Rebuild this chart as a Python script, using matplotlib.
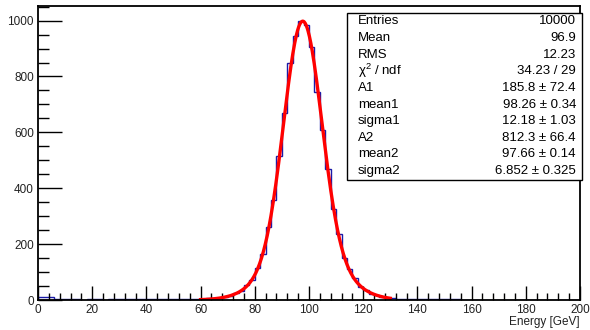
import numpy as np
import matplotlib.pyplot as plt
from matplotlib.ticker import MultipleLocator

plt.rcParams['font.family'] = ['Liberation Sans', 'DejaVu Sans']

# histogram: 100 bins of 2 GeV from 0 to 200 (counts)
bin_edges = np.arange(0, 202, 2)
counts = [
    9, 9, 9, 4, 2, 3, 2, 2, 0, 3, 2, 2, 1, 3, 3, 3, 3, 2, 3, 2,
    3, 3, 3, 2, 3, 2, 4, 2, 5, 2,
    5, 6, 8, 7, 11, 14, 24, 32, 52, 70, 115, 163, 262, 358, 515, 668,
    850, 945, 998, 985, 905, 745, 610, 470, 325, 238, 150, 110, 78, 48,
    36, 22, 17, 11, 8,
    6, 4, 3, 2, 3, 4, 2, 2, 3, 3, 2, 2, 3, 1, 1, 1, 0, 0, 0, 0,
    0, 0, 0, 0, 0, 0, 0, 0, 0, 0, 0, 0, 0, 0, 0,
]

# fit result (double gaussian), range 60-130
fit_range = (60, 130)
A1, mean1, sigma1 = 185.8, 98.26, 12.18
A2, mean2, sigma2 = 812.3, 97.66, 6.852

stats_labels = ["Entries", "Mean", "RMS", r"$\mathregular{\chi^{2}}$ / ndf", "A1", "mean1",
                "sigma1", "A2", "mean2", "sigma2"]
stats_values = ["10000", "96.9", "12.23", "34.23 / 29", "185.8 \u00b1 72.4",
                "98.26 \u00b1 0.34", "12.18 \u00b1 1.03", "812.3 \u00b1 66.4",
                "97.66 \u00b1 0.14", "6.852 \u00b1 0.325"]


def double_gaus(x):
    return (A1 * np.exp(-0.5 * ((x - mean1) / sigma1) ** 2)
            + A2 * np.exp(-0.5 * ((x - mean2) / sigma2) ** 2))


fig = plt.figure(figsize=(5.9, 3.3), dpi=100)
ax = fig.add_axes([0.0644, 0.0909, 0.9186, 0.8924])

ax.stairs(counts, bin_edges, color='#1a1aa8', lw=1.0)
xf = np.linspace(fit_range[0], fit_range[1], 400)
ax.plot(xf, double_gaus(xf), color='red', lw=2.4)

ax.set_xlim(0, 200)
ax.set_ylim(0, 1054)
ax.xaxis.set_major_locator(MultipleLocator(20))
ax.xaxis.set_minor_locator(MultipleLocator(4))
ax.yaxis.set_major_locator(MultipleLocator(200))
ax.yaxis.set_minor_locator(MultipleLocator(50))
ax.tick_params(axis='x', which='major', direction='in', length=10, width=1,
               labelsize=8.5, pad=3, top=False, labelcolor='#222222')
ax.tick_params(axis='x', which='minor', direction='in', length=5, width=1, top=False)
ax.tick_params(axis='y', which='major', direction='in', length=17, width=1,
               labelsize=8.5, pad=3, right=False, labelcolor='#222222')
ax.tick_params(axis='y', which='minor', direction='in', length=8, width=1, right=False)
for s in ax.spines.values():
    s.set_linewidth(1.3)

ax.set_xlabel("Energy [GeV]", fontsize=8.5, color='#222222')
ax.xaxis.set_label_coords(1.0, -0.055)
ax.xaxis.label.set_horizontalalignment('right')

# stats box
bx0, by1 = 347 / 590, 1 - 13 / 330
bw, bh = (582 - 347) / 590, (180 - 13) / 330
fig.patches.append(plt.Rectangle((bx0, by1 - bh), bw, bh, transform=fig.transFigure,
                                 facecolor='white', edgecolor='black', lw=1.0, zorder=5))
row_h = 16.6 / 330
for i, (lab, val) in enumerate(zip(stats_labels, stats_values)):
    y = by1 - (8.5 / 330) - i * row_h
    fig.text(358 / 590, y, lab, fontsize=9.5, va='center', ha='left', zorder=6)
    fig.text(576 / 590, y, val, fontsize=9.5, va='center', ha='right', zorder=6)

fig.savefig("out.png", dpi=100)
